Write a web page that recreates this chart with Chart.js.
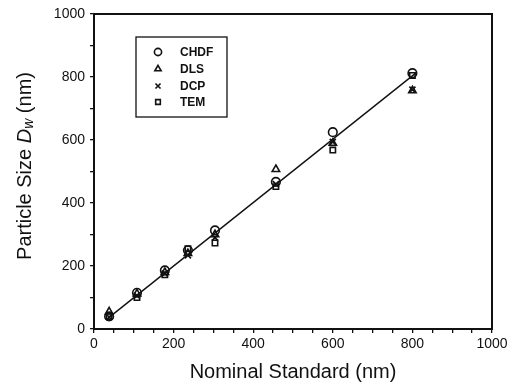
<!DOCTYPE html>
<html><head><meta charset="utf-8">
<script src="https://cdn.jsdelivr.net/npm/chart.js@4/dist/chart.umd.min.js"></script>
<style>html,body{margin:0;padding:0;background:#fff}#wrap{width:523px;height:386px}</style>
</head><body><div id="wrap"><canvas id="c" width="523" height="386"></canvas></div>
<script>
const nominal = [38, 108, 178, 236, 304, 457, 600, 800];
const chdf = [40, 115, 186, 250, 313, 467, 625, 812];
const dls  = [55, 112, 180, 240, 300, 507, 590, 757];
const dcp  = [38, 106, 176, 234, 290, 460, 594, 760];
const tem  = [40, 100, 172, 255, 273, 452, 568, 805];
const fitX = [38, 810];
const fitY = [37, 814];
const seriesNames = ['CHDF', 'DLS', 'DCP', 'TEM'];
const seriesMarkers = ['circle', 'triangle', 'crossRot', 'rect'];
const xTickLabels = [0, 200, 400, 600, 800, 1000];
const yTickLabels = [0, 200, 400, 600, 800, 1000];

const pts = (ys) => nominal.map((x, i) => ({x: x, y: ys[i]}));
const allSeries = [chdf, dls, dcp, tem];
const FONT = "'Liberation Sans', Arial, Helvetica, sans-serif";

const datasets = allSeries.map((ys, k) => ({
  type: 'scatter', label: seriesNames[k], data: pts(ys),
  pointStyle: seriesMarkers[k], pointRadius: k === 3 ? 3.8 : 4.3,
  pointBorderColor: '#111', pointBackgroundColor: 'rgba(0,0,0,0)', pointBorderWidth: 1.6
}));
datasets.push({
  type: 'line', label: 'fit', data: fitX.map((x, i) => ({x: x, y: fitY[i]})),
  borderColor: '#111', borderWidth: 1.4, pointRadius: 0, fill: false
});

const framePlugin = {
  id: 'frame',
  afterDraw(chart) {
    const ctx = chart.ctx, a = chart.chartArea;
    ctx.save();
    ctx.strokeStyle = '#111'; ctx.lineWidth = 2;
    ctx.strokeRect(a.left, a.top, a.right - a.left, a.bottom - a.top);
    // legend box
    const bx = 136, by = 37, bw = 91, bh = 80;
    ctx.lineWidth = 1.3;
    ctx.strokeRect(bx, by, bw, bh);
    const rows = [52, 69, 86, 102];
    ctx.font = "bold 12px " + FONT;
    ctx.fillStyle = '#111'; ctx.textBaseline = 'middle'; ctx.textAlign = 'left';
    for (let k = 0; k < 4; k++) {
      ctx.strokeStyle = '#111'; ctx.fillStyle = 'rgba(0,0,0,0)'; ctx.lineWidth = 1.6;
      Chart.helpers.drawPoint(ctx, {pointStyle: seriesMarkers[k], radius: k === 3 ? 3.3 : 3.6, borderWidth: 1.6, rotation: 0}, 158, rows[k]);
      ctx.fillStyle = '#111';
      ctx.fillText(seriesNames[k], 180, rows[k] + 1);
    }
    // y title with italic D and subscript w
    ctx.translate(25, 166);
    ctx.rotate(-Math.PI / 2);
    const f1 = "20px " + FONT, f2 = "italic 20px " + FONT, f3 = "italic 14px " + FONT;
    const parts = [['Particle Size ', f1, 0], ['D', f2, 0], ['w', f3, 4], [' (nm)', f1, 0]];
    let total = 0;
    parts.forEach(p => { ctx.font = p[1]; total += ctx.measureText(p[0]).width; });
    let x = -total / 2;
    ctx.textAlign = 'left'; ctx.textBaseline = 'middle'; ctx.fillStyle = '#111';
    parts.forEach(p => { ctx.font = p[1]; ctx.fillText(p[0], x, p[2]); x += ctx.measureText(p[0]).width; });
    ctx.restore();
  }
};

new Chart(document.getElementById('c'), {
  data: { datasets: datasets },
  options: {
    responsive: false, animation: false,
    layout: { padding: { left: 0, right: 31, top: 14, bottom: 0 } },
    plugins: { legend: { display: false }, tooltip: { enabled: false } },
    scales: {
      x: {
        type: 'linear', min: 0, max: 1000,
        ticks: { stepSize: 50, autoSkip: false, maxRotation: 0, padding: 3, color: '#111',
          font: { family: FONT, size: 14 },
          callback: (v) => xTickLabels.includes(v) ? String(v) : '' },
        grid: { drawOnChartArea: false, drawTicks: true, tickLength: 4, color: '#111', lineWidth: 1.3 },
        border: { display: false },
        title: { display: true, text: 'Nominal Standard (nm)', color: '#111',
          font: { family: FONT, size: 20 }, padding: { top: 0, bottom: 2 } },
        afterFit: (s) => { s.height = 57; }
      },
      y: {
        type: 'linear', min: 0, max: 1000,
        ticks: { stepSize: 100, autoSkip: false, padding: 5, color: '#111',
          font: { family: FONT, size: 14 },
          callback: (v) => yTickLabels.includes(v) ? String(v) : '' },
        grid: { drawOnChartArea: false, drawTicks: true, tickLength: 4, color: '#111', lineWidth: 1.3 },
        border: { display: false },
        afterFit: (s) => { s.width = 94; }
      }
    }
  },
  plugins: [framePlugin]
});
</script></body></html>
